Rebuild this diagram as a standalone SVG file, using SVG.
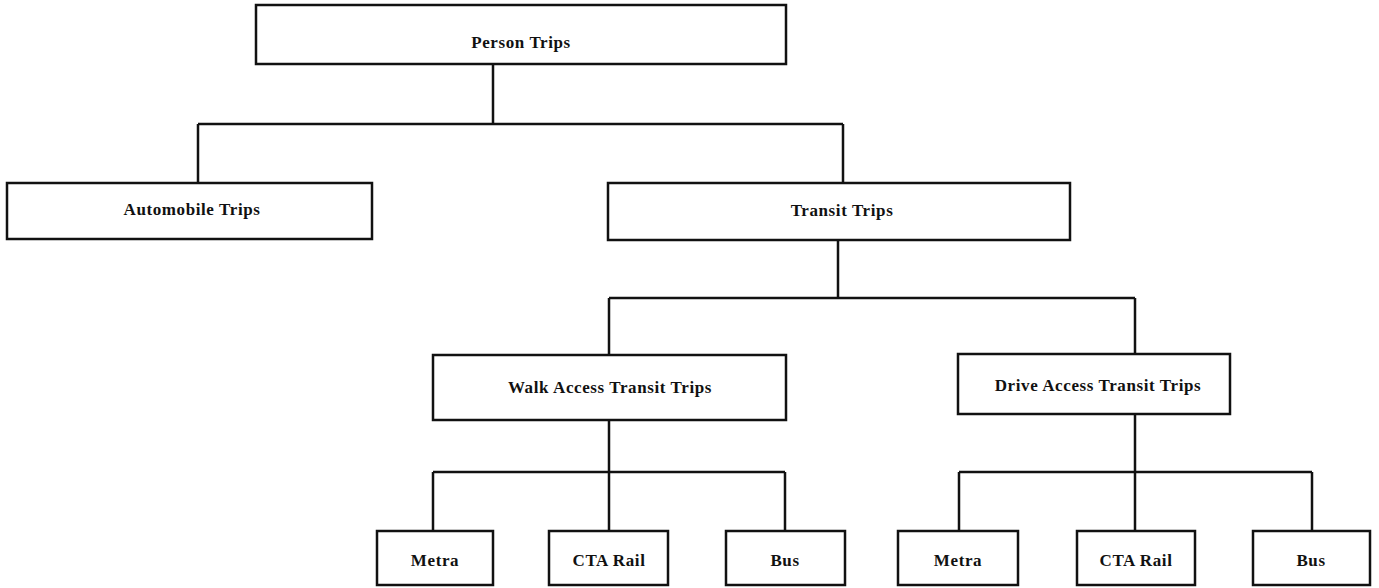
<svg xmlns="http://www.w3.org/2000/svg" width="1379" height="588" viewBox="0 0 1379 588">
<style>
.box{fill:#fff;stroke:#111;stroke-width:2.5}
.lbl{font-family:"Liberation Serif","Times New Roman",serif;font-weight:bold;font-size:17px;letter-spacing:0.6px;fill:#111;text-anchor:middle}
.con{fill:none;stroke:#111;stroke-width:2.5}
</style>
<rect width="1379" height="588" fill="#fff"/>
<g id="connectors">
<path class="con" d="M493 64V124M198 124H843M198 124V183M843 124V183"/>
<path class="con" d="M838 240V298M609 298H1135M609 298V355M1135 298V355"/>
<path class="con" d="M609 420V472M433 472H785M433 472V531M609 472V531M785 472V531"/>
<path class="con" d="M1135 414V472M959 472H1312M959 472V531M1135 472V531M1312 472V531"/>
</g>
<g id="person"><rect class="box" x="256" y="5" width="530" height="59"/><text class="lbl" x="521" y="48">Person Trips</text></g>
<g id="auto"><rect class="box" x="7" y="183" width="365" height="56"/><text class="lbl" x="192" y="215">Automobile Trips</text></g>
<g id="transit"><rect class="box" x="608" y="183" width="462" height="57"/><text class="lbl" x="842" y="216">Transit Trips</text></g>
<g id="walk"><rect class="box" x="433" y="355" width="353" height="65"/><text class="lbl" x="610" y="393">Walk Access Transit Trips</text></g>
<g id="drive"><rect class="box" x="958" y="354" width="272" height="60"/><text class="lbl" x="1098" y="391">Drive Access Transit Trips</text></g>
<g id="walk-metra"><rect class="box" x="377" y="531" width="116" height="54"/><text class="lbl" x="435" y="566">Metra</text></g>
<g id="walk-cta"><rect class="box" x="549" y="531" width="119" height="54"/><text class="lbl" x="609" y="566">CTA Rail</text></g>
<g id="walk-bus"><rect class="box" x="726" y="531" width="119" height="54"/><text class="lbl" x="785" y="566">Bus</text></g>
<g id="drive-metra"><rect class="box" x="898" y="531" width="120" height="54"/><text class="lbl" x="958" y="566">Metra</text></g>
<g id="drive-cta"><rect class="box" x="1077" y="531" width="118" height="54"/><text class="lbl" x="1136" y="566">CTA Rail</text></g>
<g id="drive-bus"><rect class="box" x="1253" y="531" width="117" height="54"/><text class="lbl" x="1311" y="566">Bus</text></g>
</svg>
